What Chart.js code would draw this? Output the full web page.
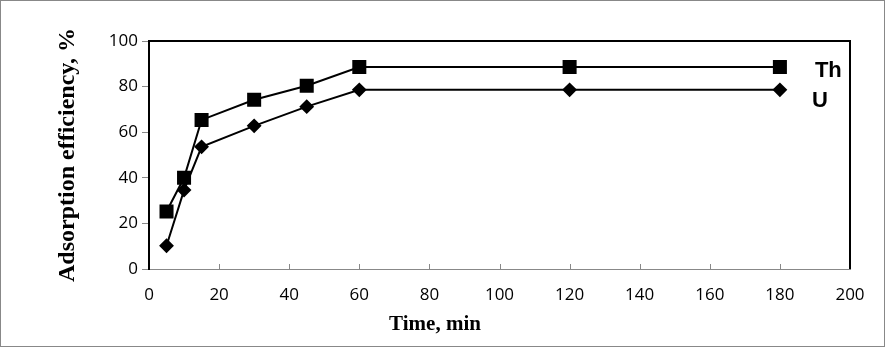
<!DOCTYPE html>
<html>
<head>
<meta charset="utf-8">
<script src="https://cdn.jsdelivr.net/npm/chart.js@4"></script>
<style>
  html, body { margin: 0; padding: 0; background: #fff; }
  #wrap { width: 885px; height: 347px; }
</style>
</head>
<body>
<div id="wrap"><canvas id="c" width="885" height="347"></canvas></div>
<script>
// ---- data ----
const timeMin = [5, 10, 15, 30, 45, 60, 120, 180];
const thValues = [25.2, 40.0, 65.4, 74.2, 80.4, 88.6, 88.6, 88.6];
const uValues  = [10.2, 34.6, 53.6, 62.8, 71.2, 78.6, 78.6, 78.6];
const seriesNames = ['Th', 'U'];
const xTicks = [0, 20, 40, 60, 80, 100, 120, 140, 160, 180, 200];
const yTicks = [0, 20, 40, 60, 80, 100];
const xTitle = 'Time, min';
const yTitle = 'Adsorption efficiency, %';

const toPts = (xs, ys) => xs.map((x, i) => ({ x: x, y: ys[i] }));

const framePlugin = {
  id: 'frame',
  afterDraw(chart) {
    const ctx = chart.ctx;
    const a = chart.chartArea;
    const xs = chart.scales.x;
    const ys = chart.scales.y;
    ctx.save();
    // top and right plot border
    ctx.strokeStyle = '#000';
    ctx.lineWidth = 2;
    ctx.beginPath();
    ctx.moveTo(a.left, a.top);
    ctx.lineTo(a.right, a.top);
    ctx.lineTo(a.right, a.bottom);
    ctx.stroke();
    // inward x ticks
    ctx.strokeStyle = '#888';
    ctx.lineWidth = 1;
    xs.ticks.forEach(t => {
      if (t.value <= xs.min || t.value >= xs.max) return;
      const px = Math.round(xs.getPixelForValue(t.value)) + 0.5;
      ctx.beginPath();
      ctx.moveTo(px, a.bottom);
      ctx.lineTo(px, a.bottom - 5);
      ctx.stroke();
    });
    // series labels next to the last points
    ctx.fillStyle = '#000';
    ctx.font = 'bold 22px "Liberation Sans", Arial, sans-serif';
    ctx.textAlign = 'left';
    ctx.textBaseline = 'middle';
    const lastX = xs.getPixelForValue(timeMin[timeMin.length - 1]);
    ctx.fillText(seriesNames[0], lastX + 35, ys.getPixelForValue(thValues[thValues.length - 1]) + 4);
    ctx.fillText(seriesNames[1], lastX + 32, ys.getPixelForValue(uValues[uValues.length - 1]) + 11);
    // x axis title
    ctx.font = 'bold 21px "Liberation Serif", "Times New Roman", serif';
    ctx.textAlign = 'center';
    ctx.fillText(xTitle, 435, 325);
    // outer border
    ctx.strokeStyle = '#888';
    ctx.lineWidth = 1;
    ctx.strokeRect(0.5, 0.5, chart.width - 1, chart.height - 1);
    ctx.restore();
  }
};

new Chart(document.getElementById('c'), {
  type: 'line',
  data: {
    datasets: [
      {
        label: seriesNames[0],
        data: toPts(timeMin, thValues),
        borderColor: '#000',
        backgroundColor: '#000',
        borderWidth: 2,
        pointStyle: 'rect',
        pointRadius: 8.5,
        pointHoverRadius: 8.5,
        tension: 0
      },
      {
        label: seriesNames[1],
        data: toPts(timeMin, uValues),
        borderColor: '#000',
        backgroundColor: '#000',
        borderWidth: 2,
        pointStyle: 'rectRot',
        pointRadius: 6,
        pointHoverRadius: 6,
        tension: 0
      }
    ]
  },
  options: {
    responsive: false,
    animation: false,
    layout: { padding: { left: 0, top: 41, right: 35, bottom: 0 } },
    plugins: { legend: { display: false }, tooltip: { enabled: false } },
    scales: {
      x: {
        type: 'linear',
        min: 0, max: 200,
        afterBuildTicks: s => { s.ticks = xTicks.map(v => ({ value: v })); },
        afterFit: s => { s.height = 347 - 269; },
        grid: { drawOnChartArea: false, drawTicks: false, tickLength: 0 },
        border: { color: '#888', width: 1 },
        ticks: {
          padding: 16,
          color: '#000',
          font: { family: '"Open Sans", sans-serif', size: 17 }
        },
        title: { display: false, text: xTitle }
      },
      y: {
        min: 0, max: 100,
        afterBuildTicks: s => { s.ticks = yTicks.map(v => ({ value: v })); },
        afterFit: s => { s.width = 149; },
        grid: { drawOnChartArea: false, drawTicks: true, tickLength: 7, color: '#888' },
        border: { color: '#000', width: 2 },
        ticks: {
          padding: 4,
          color: '#000',
          font: { family: '"Open Sans", sans-serif', size: 17 }
        },
        title: {
          display: true,
          text: yTitle,
          color: '#000',
          padding: { top: 53, bottom: 0 },
          font: { family: '"Liberation Serif", "Times New Roman", serif', size: 24, weight: 'bold' }
        }
      }
    }
  },
  plugins: [framePlugin]
});
</script>
</body>
</html>
